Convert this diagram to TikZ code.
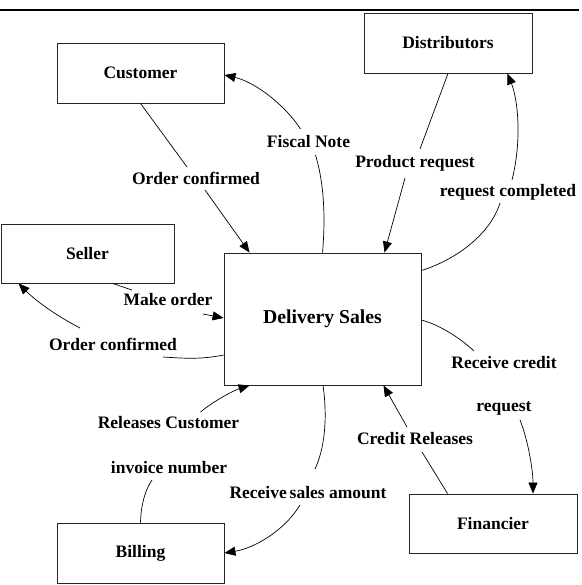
\documentclass[tikz,border=0pt]{standalone}
\usepackage{fontspec}
\setmainfont{Liberation Serif}
\usetikzlibrary{arrows.meta,calc}
\begin{document}
\begin{tikzpicture}[x=1bp,y=-1bp,
  box/.style={draw=black!85, line width=0.9bp, inner sep=0pt, font=\fontsize{17.5bp}{20bp}\selectfont\bfseries},
  lbl/.style={inner sep=1bp, font=\fontsize{17.5bp}{20bp}\selectfont\bfseries},
  flow/.style={line width=0.7bp},
  arr/.style={flow, -{Triangle[length=11bp,width=9bp]}}]
\useasboundingbox (0,0) rectangle (582,585);
\draw[line width=2.2bp] (0,10) -- (579,10);

% boxes
\node[box, minimum width=167bp, minimum height=60bp] (cust) at (140.5,73) {Customer};
\node[box, minimum width=168bp, minimum height=60bp] (dist) at (448,43) {Distributors};
\node[box, minimum width=173bp, minimum height=59bp] (sell) at (87.5,253.5) {Seller};
\node[box, minimum width=197bp, minimum height=132bp, font=\fontsize{19.7bp}{22bp}\selectfont\bfseries] (del) at (322.5,319) {Delivery Sales};
\node[box, minimum width=167bp, minimum height=60bp] (bill) at (140.5,553) {Billing};
\node[box, minimum width=168bp, minimum height=59bp] (fin) at (493,523.5) {Financier};

% labels
\node[lbl] (loca) at (196,178) {Order confirmed};
\node[lbl] (lfn) at (308.5,142) {Fiscal Note};
\node[lbl] (lpr) at (415,163) {Product request};
\node[lbl] (lrc) at (508,192) {request completed};
\node[lbl] (lmo) at (168,300) {Make order};
\node[lbl] (locb) at (113,344) {Order confirmed};
\node[lbl] (lrcr) at (504,363) {Receive credit};
\node[lbl] (lreq) at (504,408) {request};
\node[lbl] (lcr) at (415,439) {Credit Releases};
\node[lbl] (lrcu) at (168.5,423) {Releases Customer};
\node[lbl] (lin) at (169,468) {invoice number};
\node[lbl] (lrsa) at (308,493) {Receive\,sales amount};

% connectors
\draw[flow] (cust.south) -- ($(loca)+(-9,-11)$);
\draw[arr] ($(loca)+(9,12)$) -- ($(del.north west)+(26,0)$);

\draw[flow] ($(del.north west)+(99,0)$) .. controls (327,200) and (320,170) .. ($(lfn)+(7,13)$);
\draw[arr] ($(lfn)+(-8,-13)$) .. controls (285,105) and (255,82) .. ($(cust.east)+(0,2)$);

\draw[flow] (dist.south) -- ($(lpr)+(5,-14)$);
\draw[arr] ($(lpr)+(-10,15)$) -- ($(del.north)+(62,0)$);

\draw[flow] ($(del.north east)+(0,18)$) .. controls (455,260) and (490,235) .. ($(lrc)+(-8,11)$);
\draw[arr] ($(lrc)+(4,-12)$) .. controls (522,140) and (518,100) .. ($(dist.south east)+(-25,0)$);

\draw[flow] ($(sell.south west)+(112,0)$) -- ($(lmo)+(-36,-10)$);
\draw[arr] ($(lmo)+(35,14)$) -- ($(del.west)+(0,-1)$);

\draw[flow] ($(del.west)+(0,36)$) .. controls (200,360) and (180,358) .. ($(locb)+(50,13)$);
\draw[arr] ($(locb)+(-33,-16)$) .. controls (55,315) and (35,300) .. ($(sell.south west)+(18,0)$);

\draw[flow] ($(del.east)+(0,1)$) .. controls (440,325) and (460,338) .. ($(lrcr)+(-30,-12)$);
\draw[arr] ($(lreq)+(16,12)$) .. controls (528,440) and (533,470) .. ($(fin.north)+(40,0)$);

\draw[flow] ($(fin.north west)+(39,0)$) -- ($(lcr)+(7,13)$);
\draw[arr] ($(lcr)+(-8,-12)$) -- ($(del.south)+(61,0)$);

\draw[arr] ($(lrcu)+(32,-11)$) .. controls (215,400) and (235,390) .. ($(del.south west)+(26,0)$);

\draw[flow] ($(del.south)+(0.5,0)$) .. controls (328,420) and (324,450) .. ($(lrsa)+(7,-24)$);
\draw[arr] ($(lrsa)+(-8,12)$) .. controls (285,530) and (255,548) .. (bill.east);

\draw[flow] (bill.north) .. controls (141,505) and (145,490) .. ($(lin)+(-17,12)$);
\end{tikzpicture}
\end{document}
